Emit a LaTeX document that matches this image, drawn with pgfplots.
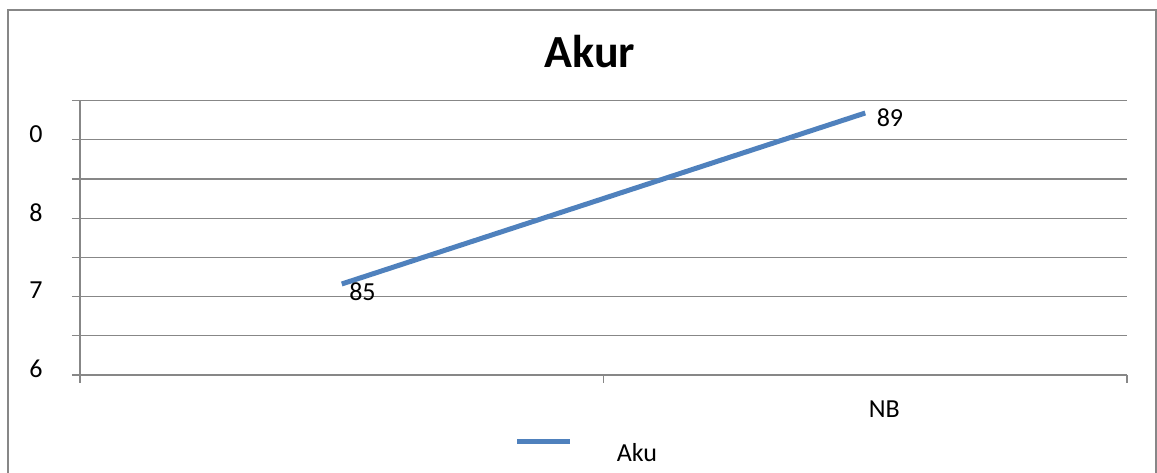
\documentclass[border=0pt]{standalone}
\usepackage{pgfplots}
\pgfplotsset{compat=1.18}
\usepackage{fontspec}
\setmainfont{Carlito}
\definecolor{lineblue}{HTML}{4F81BD}
\definecolor{gridgray}{HTML}{878787}
\begin{document}
\begin{tikzpicture}[x=1pt,y=1pt]
\useasboundingbox (-80,-98) rectangle (1077,375);
\draw[gridgray, line width=1.2pt] (-72,-110) rectangle (1076,365);
\begin{axis}[
  at={(0,0)}, anchor=south west,
  scale only axis, width=1047pt, height=274.3pt,
  xmin=0.5, xmax=2.5, ymin=82.871, ymax=89.288,
  axis x line=bottom, axis y line=left,
  axis line style={gridgray, line width=1.3pt, -},
  xtick={0.5,1.5,2.5}, xticklabels={,,},
  extra x ticks={1,2}, extra x tick labels={,NB},
  extra x tick style={major tick length=0pt, xticklabel style={xshift=19pt, yshift=-22pt}},
  ytick={82.871,83.788,84.705,85.621,86.538,87.455,88.372,89.288},
  yticklabels={6,,7,,8,,0,},
  yticklabel style={xshift=-26pt, yshift=6pt},
  ymajorgrids, grid style={gridgray, line width=1.3pt},
  tick style={gridgray, line width=1.3pt},
  tick align=outside, major tick length=8pt,
  ticklabel style={font=\fontsize{26}{30}\selectfont, text=black},
  title={Akur},
  title style={at={(0.487,1)}, anchor=base, yshift=27.2pt, inner sep=0pt,
    font=\bfseries\fontsize{46}{50}\selectfont},
  legend style={at={(0.4833,-0.277)}, anchor=center, draw=none, fill=none,
    inner sep=0pt, nodes={inner sep=0pt}, column sep=44pt,
    font=\fontsize{26}{30}\selectfont},
  legend image code/.code={\draw[lineblue, line width=5pt] (0pt,12pt) -- (53pt,12pt);},
]
\addplot[lineblue, line width=5pt, no marks] coordinates {(1,85) (2,89)}
  node[pos=0, anchor=north west, inner sep=2pt, xshift=3pt, yshift=6pt, text=black, font=\fontsize{26}{30}\selectfont] {85}
  node[pos=1, anchor=west, inner sep=3pt, xshift=6pt, yshift=-4.5pt, text=black, font=\fontsize{26}{30}\selectfont] {89};
\addlegendentry{Aku}
\end{axis}
\end{tikzpicture}
\end{document}
